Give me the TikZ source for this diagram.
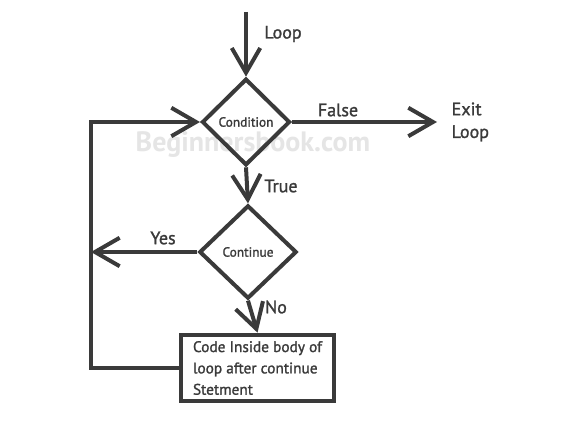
\documentclass[tikz,border=0pt]{standalone}
\usepackage{fontspec}
\setmainfont{PT Sans}
\newfontfamily\semib{PT Sans}[FakeBold=1.3]
\usetikzlibrary{positioning,arrows.meta,shapes.geometric}
\definecolor{ink}{HTML}{3A3A3A}
\tikzset{
  dec/.style    ={draw=ink, diamond, aspect=1, line width=3pt, inner sep=0pt, text=ink, font=\semib\fontsize{10}{12}\selectfont},
  codebox/.style={draw=ink, rectangle, line width=3pt, minimum width=115pt, minimum height=50pt, align=left, text=ink, inner sep=3pt, font=\semib\fontsize{11.5}{16}\selectfont},
  arr/.style    ={-{Straight Barb[length=6.5mm,width=7.5mm]}, line width=3pt, draw=ink},
  lbl/.style    ={text=ink, font=\semib\fontsize{13.5}{17}\selectfont},
  wmark/.style  ={text=black!10, font=\bfseries\fontsize{21}{24}\selectfont},
}
\begin{document}
\begin{tikzpicture}[x=0.75pt, y=-0.75pt]
  \useasboundingbox[fill=white] (0,0) rectangle (587,442);
  % watermark
  \node[wmark] (wm) at (253,145) {Beginnersbook.com};

  \node[dec, minimum width=66pt, minimum height=65pt] (cond) at (246,122) {Condition};
  \node[dec, minimum width=73pt, minimum height=70pt] (cont) at (248,252) {Continue};
  \node[codebox] (code) at (257.5,368) {Code Inside body of\\loop after continue\\Stetment};

  \coordinate (start) at (246,12);
  \coordinate (out) at (437,122);
  \coordinate (yesend) at (91,252);
  \coordinate (back) at (91,122);

  \draw[arr] (start) -- (cond.north);
  \draw[arr] (cond.east) -- (out);
  \draw[arr] (cond.south) -- (cont.north);
  \draw[arr] (cont.west) -- (yesend);
  \draw[arr] (cont.south) -- (code.north);
  \draw[arr] (code.west) -| (back) -- (cond.west);

  \node[lbl] (loop) at (283,34) {Loop};
  \node[lbl] (false) at (338,110) {False};
  \node[lbl, align=left, anchor=west] (exit) at (447,122) {Exit\\Loop};
  \node[lbl] (true) at (281,186) {True};
  \node[lbl] (yes) at (163,238) {Yes};
  \node[lbl] (no) at (276,307) {No};
\end{tikzpicture}
\end{document}
